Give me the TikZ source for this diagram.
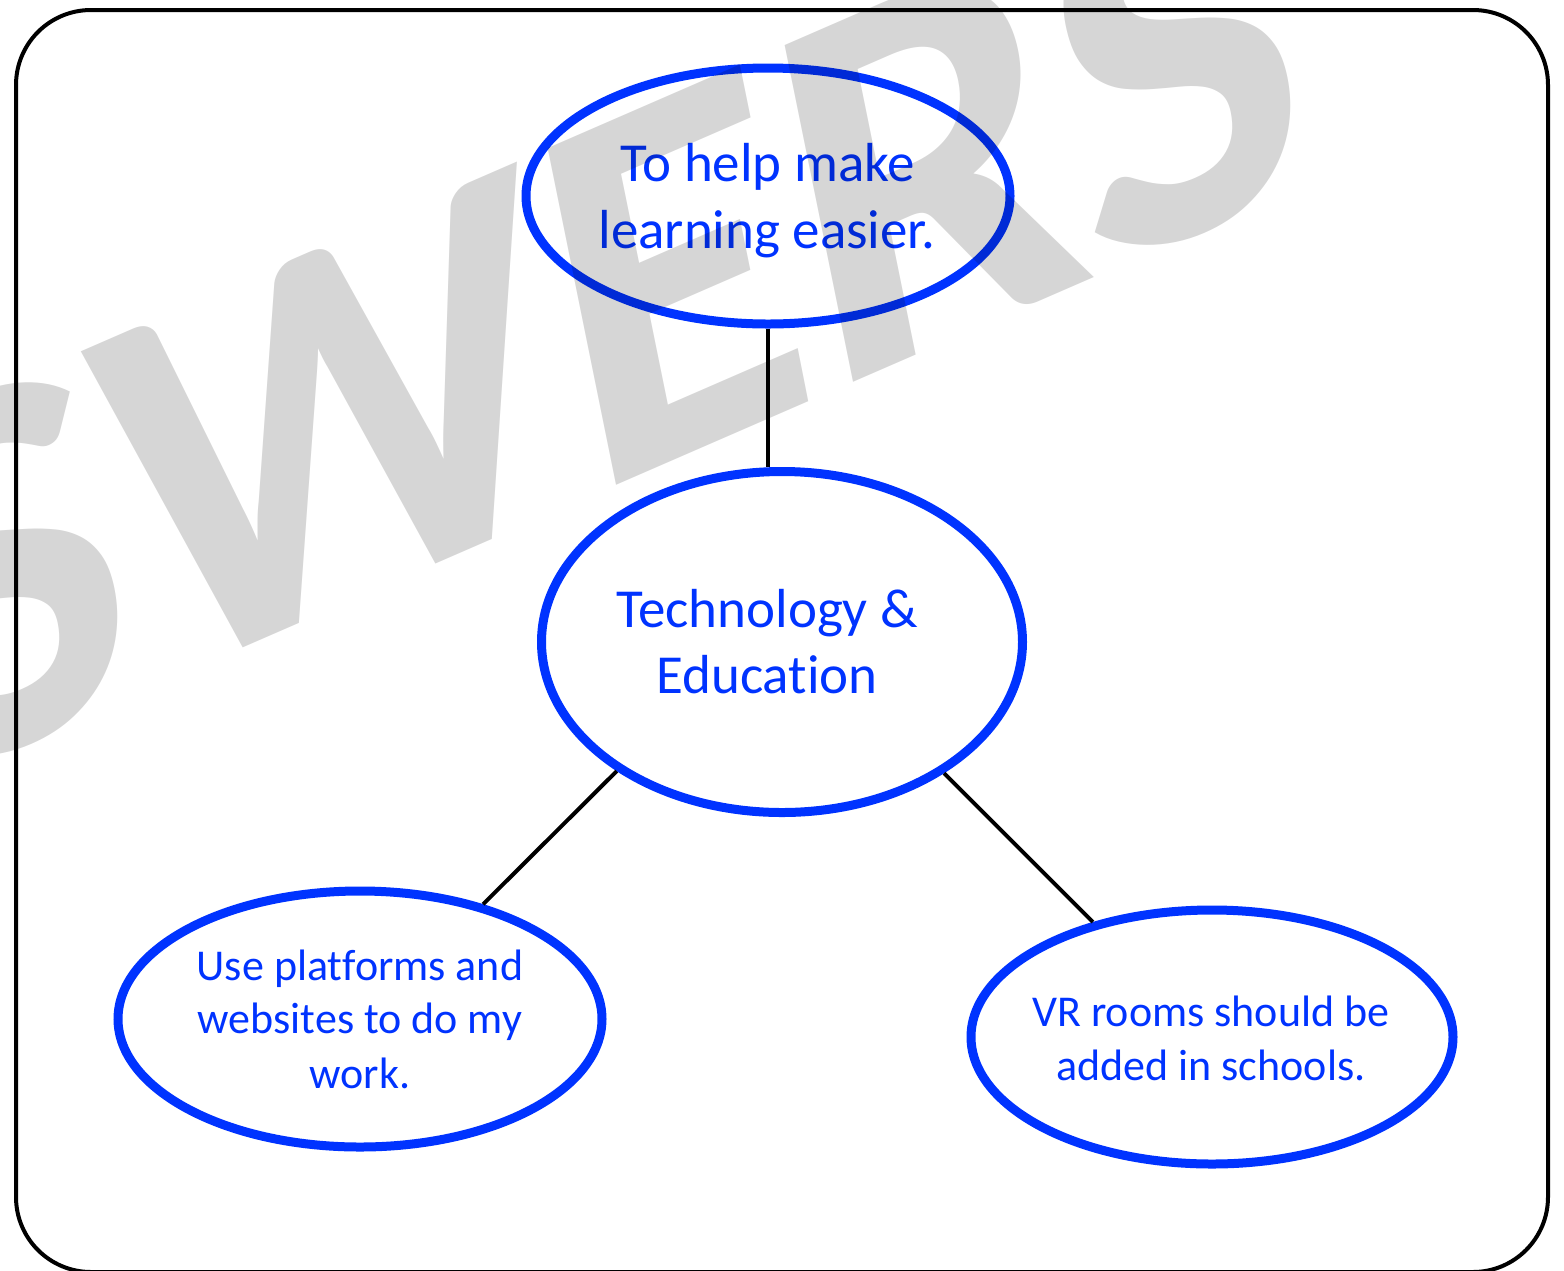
\documentclass[tikz,border=0pt]{standalone}
\usepackage{fontspec}
\setmainfont{Carlito}[Ligatures=NoCommon]
\usetikzlibrary{shapes.geometric}
\definecolor{bblue}{RGB}{0,51,255}
\tikzset{
  bubble/.style={ellipse, draw=bblue, line width=9pt, inner sep=0pt},
  bigtxt/.style={text=bblue, font=\fontsize{55}{66}\selectfont, anchor=base, inner sep=0pt},
  smalltxt/.style={text=bblue, font=\fontsize{44}{54}\selectfont, anchor=base, inner sep=0pt},
  link/.style={draw=black, line width=4pt},
  frame/.style={draw=black, line width=4pt, rounded corners=75pt},
  wmark/.style={transform shape, inner sep=0pt, text=black, text opacity=0.16, font=\fontsize{530}{530}\selectfont\bfseries}
}
\begin{document}
\begin{tikzpicture}[x=1pt,y=1pt]
\useasboundingbox (0,0) rectangle (1564,-1270);
\fill[white] (0,0) rectangle (1564,-1270);
\draw[frame] (16,-10) rectangle (1548,-1272);

\node[bubble, minimum width=484pt, minimum height=256pt] (top) at (768,-196) {};
\node[bubble, minimum width=481pt, minimum height=341pt] (mid) at (782,-642) {};
\node[bubble, minimum width=484pt, minimum height=256pt] (left) at (360,-1019) {};
\node[bubble, minimum width=482pt, minimum height=254pt] (right) at (1212,-1037) {};

\draw[link] (top.south) -- (top.south |- mid.north);
\draw[link] (mid.218) -- (left.43);
\draw[link] (mid.321) -- (right.136);

\node[bigtxt] (t1) at (768,-181) {To help make};
\node[bigtxt] (t2) at (767,-248) {learning easier.};
\node[bigtxt] (m1) at (767,-627) {Technology \&};
\node[bigtxt] (m2) at (767,-693) {Education};
\node[smalltxt] (l1) at (360,-980) {Use platforms and};
\node[smalltxt] (l2) at (360,-1033) {websites to do my};
\node[smalltxt] (l3) at (360,-1088) {work.};
\node[smalltxt] (r1) at (1211,-1026) {VR rooms should be};
\node[smalltxt] (r2) at (1211,-1080) {added in schools.};

\begin{scope}
\clip (0,0) rectangle (1564,-1270);
\begin{scope}[cm={0.917,0.399,-0.199,0.980,(588,-498)}]
\node[wmark, anchor=base east] (wm1) at (0,0) {ANSW};
\node[wmark, anchor=base west] (wm2) at (0,0) {ERS};
\end{scope}
\end{scope}
\end{tikzpicture}
\end{document}
